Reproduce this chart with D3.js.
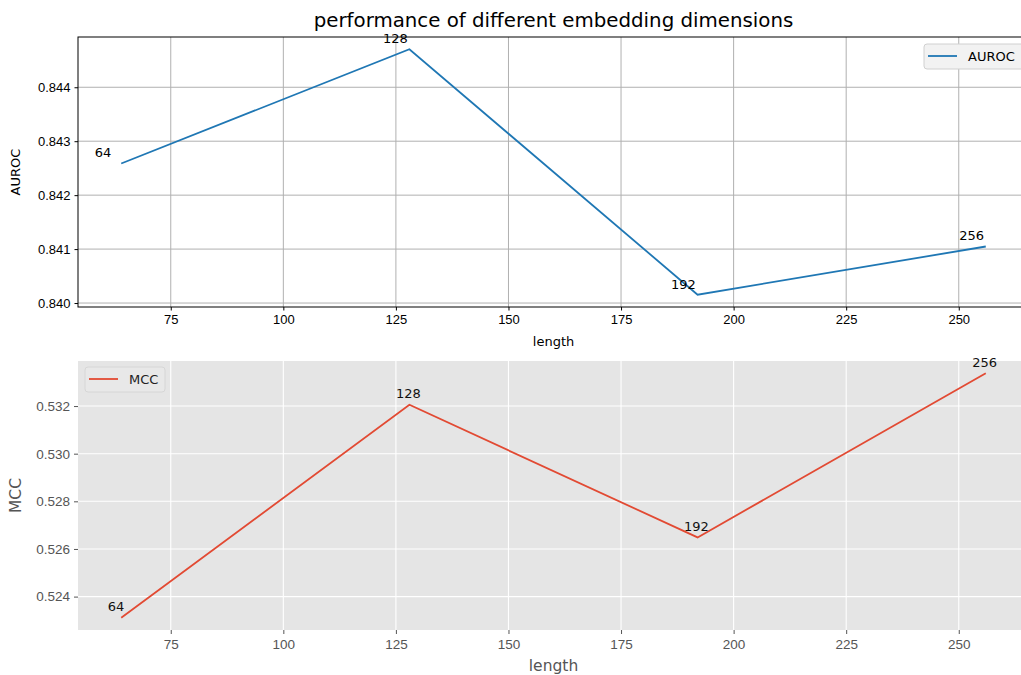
<!DOCTYPE html>
<html>
<head>
<meta charset="utf-8">
<script src="https://cdn.jsdelivr.net/npm/d3@7"></script>
<style>
  body { margin: 0; background: #fff; }
  svg { display: block; font-family: "DejaVu Sans", sans-serif; }
</style>
</head>
<body>
<div id="chart"></div>
<script>
// data
var lengths = [64, 128, 192, 256]
var auroc = [0.842587, 0.844704, 0.840154, 0.841048]
var mcc = [0.523111, 0.532054, 0.526484, 0.533378]
var xTicks = [75, 100, 125, 150, 175, 200, 225, 250]
var aurocTicks = [0.840, 0.841, 0.842, 0.843, 0.844]
var mccTicks = [0.524, 0.526, 0.528, 0.530, 0.532]

var W = 1021, H = 675
var left = 78, right = 1029

var svg = d3.select("#chart").append("svg")
    .attr("width", W).attr("height", H)

// matplotlib-like 5% margins
function padded(vals) {
    var lo = d3.min(vals), hi = d3.max(vals), p = (hi - lo) * 0.05
    return [lo - p, hi + p]
}

var x = d3.scaleLinear().domain(padded(lengths)).range([left, right])

var fmt3 = d3.format(".3f")

// ---------- top panel (classic style) ----------
var top1 = 37, bot1 = 307
var y1 = d3.scaleLinear().domain(padded(auroc)).range([bot1, top1])

var g1 = svg.append("g")

// grid
g1.selectAll(".vg").data(xTicks).enter().append("line")
    .attr("x1", d => x(d)).attr("x2", d => x(d))
    .attr("y1", top1).attr("y2", bot1)
    .attr("stroke", "#b0b0b0").attr("stroke-width", 1)
g1.selectAll(".hg").data(aurocTicks).enter().append("line")
    .attr("x1", left).attr("x2", right)
    .attr("y1", d => y1(d)).attr("y2", d => y1(d))
    .attr("stroke", "#b0b0b0").attr("stroke-width", 1)

var line1 = d3.line()
    .x((d, i) => x(lengths[i]))
    .y(d => y1(d))
g1.append("path").datum(auroc)
    .attr("d", line1)
    .attr("fill", "none").attr("stroke", "#1f77b4").attr("stroke-width", 1.8)

// axes
var ax1 = g1.append("g").attr("transform", "translate(0," + bot1 + ")")
    .call(d3.axisBottom(x).tickValues(xTicks).tickSize(3.5).tickPadding(4).tickSizeOuter(0))
var ay1 = g1.append("g").attr("transform", "translate(" + left + ",0)")
    .call(d3.axisLeft(y1).tickValues(aurocTicks).tickFormat(fmt3).tickSize(3.5).tickPadding(4).tickSizeOuter(0))
;[ax1, ay1].forEach(function(a) {
    a.select(".domain").remove()
    a.selectAll("text").attr("font-size", 13).attr("fill", "#000")
    a.selectAll("line").attr("stroke", "#000")
})
// spines
g1.append("rect").attr("x", left).attr("y", top1)
    .attr("width", right - left).attr("height", bot1 - top1)
    .attr("fill", "none").attr("stroke", "#000").attr("stroke-width", 1)

// point labels
g1.selectAll(".lab").data(lengths).enter().append("text")
    .attr("x", d => x(d) - 26.5)
    .attr("y", (d, i) => y1(auroc[i]) - 6)
    .attr("font-size", 13).attr("fill", "#000")
    .text(d => d)

g1.append("text").attr("x", (left + right) / 2).attr("y", 27)
    .attr("text-anchor", "middle").attr("font-size", 19.8)
    .text("performance of different embedding dimensions")
g1.append("text").attr("x", (left + right) / 2).attr("y", 346)
    .attr("text-anchor", "middle").attr("font-size", 13)
    .text("length")
g1.append("text").attr("transform", "translate(20," + ((top1 + bot1) / 2) + ") rotate(-90)")
    .attr("text-anchor", "middle").attr("font-size", 13)
    .text("AUROC")

// legend
var lg1 = g1.append("g")
lg1.append("rect").attr("x", 924).attr("y", 44).attr("width", 100).attr("height", 25)
    .attr("rx", 3).attr("fill", "#f2f2f2").attr("stroke", "#d0d0d0")
lg1.append("line").attr("x1", 928).attr("x2", 957).attr("y1", 56).attr("y2", 56)
    .attr("stroke", "#1f77b4").attr("stroke-width", 1.8)
lg1.append("text").attr("x", 968).attr("y", 61).attr("font-size", 13).text("AUROC")

// ---------- bottom panel (ggplot style) ----------
var top2 = 361, bot2 = 630
var y2 = d3.scaleLinear().domain(padded(mcc)).range([bot2, top2])

var g2 = svg.append("g")
g2.append("rect").attr("x", left).attr("y", top2)
    .attr("width", right - left).attr("height", bot2 - top2)
    .attr("fill", "#e5e5e5")

g2.selectAll(".vg").data(xTicks).enter().append("line")
    .attr("x1", d => x(d)).attr("x2", d => x(d))
    .attr("y1", top2).attr("y2", bot2)
    .attr("stroke", "#fff").attr("stroke-width", 1.1)
g2.selectAll(".hg").data(mccTicks).enter().append("line")
    .attr("x1", left).attr("x2", right)
    .attr("y1", d => y2(d)).attr("y2", d => y2(d))
    .attr("stroke", "#fff").attr("stroke-width", 1.1)

var line2 = d3.line()
    .x((d, i) => x(lengths[i]))
    .y(d => y2(d))
g2.append("path").datum(mcc)
    .attr("d", line2)
    .attr("fill", "none").attr("stroke", "#e24a33").attr("stroke-width", 1.8)

var ax2 = g2.append("g").attr("transform", "translate(0," + bot2 + ")")
    .call(d3.axisBottom(x).tickValues(xTicks).tickSize(4).tickPadding(5).tickSizeOuter(0))
var ay2 = g2.append("g").attr("transform", "translate(" + left + ",0)")
    .call(d3.axisLeft(y2).tickValues(mccTicks).tickFormat(fmt3).tickSize(4).tickPadding(4).tickSizeOuter(0))
;[ax2, ay2].forEach(function(a) {
    a.select(".domain").remove()
    a.selectAll("text").attr("font-size", 13.5).attr("fill", "#555")
    a.selectAll("line").attr("stroke", "#555")
})

g2.selectAll(".lab").data(lengths).enter().append("text")
    .attr("x", d => x(d) - 13.5)
    .attr("y", (d, i) => y2(mcc[i]) - 6.5)
    .attr("font-size", 13).attr("fill", "#111")
    .text(d => d)

g2.append("text").attr("x", (left + right) / 2).attr("y", 671)
    .attr("text-anchor", "middle").attr("font-size", 15.5).attr("fill", "#555")
    .text("length")
g2.append("text").attr("transform", "translate(21," + ((top2 + bot2) / 2) + ") rotate(-90)")
    .attr("text-anchor", "middle").attr("font-size", 15.5).attr("fill", "#555")
    .text("MCC")

var lg2 = g2.append("g")
lg2.append("rect").attr("x", 85).attr("y", 367).attr("width", 80).attr("height", 25)
    .attr("rx", 3).attr("fill", "#e8e8e8").attr("stroke", "#d6d6d6")
lg2.append("line").attr("x1", 89).attr("x2", 118).attr("y1", 379).attr("y2", 379)
    .attr("stroke", "#e24a33").attr("stroke-width", 1.8)
lg2.append("text").attr("x", 129).attr("y", 384).attr("font-size", 13).attr("fill", "#222").text("MCC")
</script>
</body>
</html>
